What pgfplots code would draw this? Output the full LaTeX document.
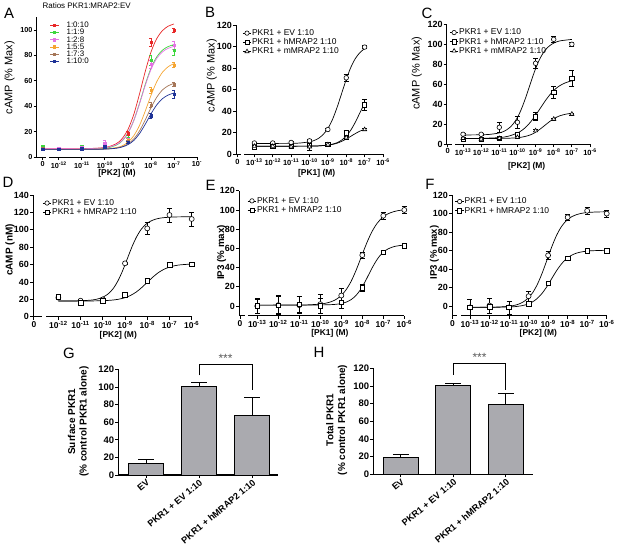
\documentclass[border=0pt]{standalone}
\usepackage{fontspec}
\setmainfont{Liberation Sans}
\usepackage{pgfplots}
\pgfplotsset{compat=1.18}
\definecolor{cR}{RGB}{232,40,40}
\definecolor{cG}{RGB}{60,215,60}
\definecolor{cM}{RGB}{228,115,228}
\definecolor{cO}{RGB}{245,165,50}
\definecolor{cBr}{RGB}{165,118,88}
\definecolor{cB}{RGB}{30,50,150}
\definecolor{barG}{RGB}{170,170,175}
\newcommand{\tp}[1]{10\textsuperscript{-#1}}
\pgfplotsset{
  prism/.style={
    scale only axis,
    axis lines=left,
    axis line style={-, line width=0.9pt},
    tick style={black, line width=0.8pt},
    tick align=outside,
    major tick length=3bp,
    clip=false,
    every axis title shift=0pt,
    /pgf/number format/assume math mode=true,
    yticklabel style={font=\bfseries\fontsize{9}{10}\selectfont, inner sep=1bp},
    xticklabel style={font=\bfseries\fontsize{8}{9}\selectfont, inner sep=1.5bp},
    legend style={draw=none, fill=none, inner sep=0pt, outer sep=0pt,
      font=\fontsize{8.5}{9}\selectfont, anchor=north west, row sep=1.2bp,
      nodes={inner sep=0.5bp, text height=5.8bp, text depth=1.2bp}, cells={anchor=west}},
    legend image code/.code={\draw[mark repeat=2, mark phase=2, #1] plot coordinates {(0bp,0bp) (4.25bp,0bp) (8.5bp,0bp)};},
  },
  curve/.style={black, line width=0.7pt, smooth},
  pts/.style={black, line width=0.6pt, only marks, mark options={solid, fill=white}, mark size=2.3bp,
    error bars/y dir=both, error bars/y explicit,
    error bars/error bar style={line width=0.6pt},
    error bars/error mark options={rotate=90, mark size=2.5bp, line width=0.6pt}},
  apts/.style={only marks, mark=square*, mark size=1.2bp,
    error bars/y dir=both, error bars/y explicit,
    error bars/error bar style={line width=0.5pt},
    error bars/error mark options={rotate=90, mark size=1.5bp, line width=0.5pt}},
  bars/.style={
    axis line style={-, line width=1.1pt}, major tick length=3bp,
    ytick={0,20,...,120}, xtick={0,1,2},
    xticklabels={EV,PKR1 + EV 1:10,PKR1 + hMRAP2 1:10},
    xticklabel style={rotate=40, anchor=north east, font=\bfseries\fontsize{9.2}{10}\selectfont, inner sep=0.5bp},
    yticklabel style={font=\bfseries\fontsize{9.5}{10}\selectfont},
  },
}
\begin{document}
\begin{tikzpicture}
\path[use as bounding box] (0,0) rectangle (617bp,-548bp);

% ---------------- A ----------------
\begin{axis}[prism, at={(36.7bp,-157bp)}, anchor=south west,
  width=160.3bp, height=139.7bp, xmin=-12.96, xmax=-6, ymin=0, ymax=110,
  ytick={0,20,40,60,80,100},
  xtick={-12.7,-12,-11,-10,-9,-8,-7,-6},
  xticklabels={0,\tp{12},\tp{11},\tp{10},\tp{9},\tp{8},\tp{7},10\textsuperscript{-}},
  yticklabel style={font=\bfseries\fontsize{7.3}{8}\selectfont},
  xticklabel style={font=\bfseries\fontsize{7.3}{8}\selectfont},
  ylabel={cAMP (\% Max)},
  ylabel style={at={(axis description cs:-0.169,0.568)}, anchor=center, font=\fontsize{11}{12}\selectfont},
  xlabel={[PK2] (M)},
  xlabel style={at={(axis description cs:0.501,-0.117)}, anchor=center, font=\bfseries\fontsize{8.5}{9}\selectfont},
  title={Ratios PKR1:MRAP2:EV},
  title style={at={(axis description cs:0.312,1.081)}, anchor=center, font=\fontsize{8}{9}\selectfont},
  legend style={at={(axis description cs:0.083,0.972)}, row sep=-0.75bp, font=\fontsize{8}{9}\selectfont},
]
\addlegendimage{cR, line width=0.6pt, mark=square*, mark size=1.2bp}\addlegendentry{\hspace{7bp}1:0:10}
\addlegendimage{cG, line width=0.6pt, mark=square*, mark size=1.2bp}\addlegendentry{\hspace{7bp}1:1:9}
\addlegendimage{cM, line width=0.6pt, mark=square*, mark size=1.2bp}\addlegendentry{\hspace{7bp}1:2:8}
\addlegendimage{cO, line width=0.6pt, mark=square*, mark size=1.2bp}\addlegendentry{\hspace{7bp}1:5:5}
\addlegendimage{cBr, line width=0.6pt, mark=square*, mark size=1.2bp}\addlegendentry{\hspace{7bp}1:7:3}
\addlegendimage{cB, line width=0.6pt, mark=square*, mark size=1.2bp}\addlegendentry{\hspace{7bp}1:10:0}
\fill[white] (axis cs:-12.56,-2.4) rectangle (axis cs:-12.42,2.4);
\addplot[cR, line width=0.7pt, smooth] coordinates {(-12.7,6.5)(-11,6.56)(-10,7.5)(-9.5,10.55)(-9.25,14.5)(-9,21.6)(-8.75,33.2)(-8.5,49.4)(-8.25,67.1)(-8,82.5)(-7.75,93.2)(-7.5,99.5)(-7.25,103)(-7,104.75)};
\addplot[cG, line width=0.7pt, smooth] coordinates {(-12.7,6)(-11,6.05)(-10,6.8)(-9.5,9.4)(-9.25,12.7)(-9,18.7)(-8.75,28.5)(-8.5,42)(-8.25,56.9)(-8,69.8)(-7.75,78.8)(-7.5,84.1)(-7.25,87)(-7,88.5)};
\addplot[cM, line width=0.7pt, smooth] coordinates {(-12.7,6.5)(-11,6.55)(-10,7.3)(-9.5,9.8)(-9.25,13)(-9,18.9)(-8.75,28.4)(-8.5,41.6)(-8.25,56.2)(-8,68.8)(-7.75,77.6)(-7.5,82.8)(-7.25,85.6)(-7,87.1)};
\addplot[cO, line width=0.7pt, smooth] coordinates {(-12.7,6)(-11,6.05)(-10,6.3)(-9.5,7.4)(-9.25,8.8)(-9,11.6)(-8.75,16.6)(-8.5,24.7)(-8.25,36)(-8,48.4)(-7.75,59.2)(-7.5,66.7)(-7.25,71.1)(-7,73.5)};
\addplot[cBr, line width=0.7pt, smooth] coordinates {(-12.7,6)(-11,6.03)(-10,6.3)(-9.5,7.1)(-9.25,8.2)(-9,10.3)(-8.75,14.1)(-8.5,20.4)(-8.25,29.1)(-8,38.7)(-7.75,47)(-7.5,52.8)(-7.25,56.1)(-7,58)};
\addplot[cB, line width=0.7pt, smooth] coordinates {(-12.7,6)(-11,6.03)(-10,6.2)(-9.5,6.9)(-9.25,7.9)(-9,9.7)(-8.75,12.9)(-8.5,18.3)(-8.25,25.7)(-8,33.9)(-7.75,41)(-7.5,45.9)(-7.25,48.8)(-7,50.4)};
\addplot[cR, apts] table[x=x,y=y,y error=e] {
x y e
-12.7 6.5 1
-12 7 1
-11 7.5 1
-10 9 1.5
-9 18.5 1.5
-8 90.5 3
-7 100 1.5
};
\addplot[cG, apts] table[x=x,y=y,y error=e] {
x y e
-12.7 8 1
-12 7 1
-11 8.5 1
-10 9 1
-9 15 2
-8 76 4
-7 84 4
};
\addplot[cM, apts] table[x=x,y=y,y error=e] {
x y e
-12.7 7 1
-12 6.5 1
-11 7.5 1
-10 10.5 2.5
-9 14 1.5
-8 73 3
-7 88 3
};
\addplot[cO, apts] table[x=x,y=y,y error=e] {
x y e
-12.7 7 1
-12 6 1
-11 7 1
-10 8.5 1
-9 13 1.5
-8 52.5 2.5
-7 72.5 2
};
\addplot[cBr, apts] table[x=x,y=y,y error=e] {
x y e
-12.7 6.5 1
-12 6 1
-11 7 1
-10 8 1
-9 12 1
-8 41 2
-7 57 1.5
};
\addplot[cB, apts] table[x=x,y=y,y error=e] {
x y e
-12.7 6 1
-12 6 1
-11 6.5 1
-10 8 1
-9 11.5 1
-8 32.5 2
-7 49.5 3
};
\end{axis}

% ---------------- B ----------------
\begin{axis}[prism, at={(236bp,-154.3bp)}, anchor=south west,
  width=147bp, height=129.3bp, xmin=-14, xmax=-6, ymin=0, ymax=120,
  ytick={0,20,...,120},
  xtick={-13.92,-13,-12,-11,-10,-9,-8,-7,-6},
  xticklabels={0,\tp{13},\tp{12},\tp{11},\tp{10},\tp{9},\tp{8},\tp{7},\tp{6}},
  xticklabel style={font=\bfseries\fontsize{7.5}{8}\selectfont},
  ylabel={cAMP (\% Max)},
  ylabel style={at={(axis description cs:-0.165,0.607)}, anchor=center, font=\fontsize{11}{12}\selectfont},
  xlabel={[PK1] (M)},
  xlabel style={at={(axis description cs:0.549,-0.147)}, anchor=center, font=\bfseries\fontsize{8.5}{9}\selectfont},
  legend style={at={(axis description cs:0.044,0.968)}},
]
\addlegendimage{black, line width=0.6pt, mark=*, mark size=2.2bp, mark options={fill=white}}\addlegendentry{PKR1 + EV 1:10}
\addlegendimage{black, line width=0.6pt, mark=square*, mark size=2.1bp, mark options={fill=white}}\addlegendentry{PKR1 + hMRAP2 1:10}
\addlegendimage{black, line width=0.6pt, mark=triangle*, mark size=2.4bp, mark options={fill=white}}\addlegendentry{PKR1 + mMRAP2 1:10}
\fill[white] (axis cs:-13.72,-2.8) rectangle (axis cs:-13.57,2.8);
\addplot[curve] coordinates {(-13,10)(-11,10.2)(-10.5,10.5)(-10,11.6)(-9.75,12.8)(-9.5,14.9)(-9.25,18.5)(-9,24)(-8.75,32.3)(-8.5,43.5)(-8.25,56.5)(-8,69.5)(-7.75,80.7)(-7.5,89)(-7.25,94.5)(-7,98.1)};
\addplot[curve] coordinates {(-13,7.5)(-10,7.6)(-9.5,7.85)(-9,8.6)(-8.75,9.4)(-8.5,10.8)(-8.25,13.2)(-8,16.9)(-7.75,22.5)(-7.5,30)(-7.25,38.75)(-7,47.5)};
\addplot[curve] coordinates {(-13,7.5)(-10,7.6)(-9.5,7.8)(-9,8.5)(-8.75,9.2)(-8.5,10.3)(-8.25,12)(-8,14.2)(-7.75,16.75)(-7.5,19.3)(-7.25,21.55)(-7,23.2)};
\addplot[pts, mark=*] table[x=x,y=y,y error=e] {
x y e
-13 10.5 1
-12 10.5 1
-11 11 1
-10 12.5 1.5
-9 23 1
-8 71 3.5
-7 99.5 1.5
};
\addplot[pts, mark=square*, mark size=2.1bp] table[x=x,y=y,y error=e] {
x y e
-13 6.5 1
-12 7.5 1
-11 7.5 1
-10 8 1
-9 9 1
-8 20 2
-7 46 5
};
\addplot[pts, mark=triangle*, mark size=2.4bp] table[x=x,y=y,y error=e] {
x y e
-13 7.5 1
-12 7.5 1
-11 7 1
-10 7 3
-9 9 1
-8 15.5 1.5
-7 23 1
};
\end{axis}

% ---------------- C ----------------
\begin{axis}[prism, at={(446.7bp,-144bp)}, anchor=south west,
  width=143.3bp, height=120bp, xmin=-13.9, xmax=-6, ymin=0, ymax=120,
  ytick={0,20,...,120},
  xtick={-13.85,-13,-12,-11,-10,-9,-8,-7,-6},
  xticklabels={0,\tp{13},\tp{12},\tp{11},\tp{10},\tp{9},\tp{8},\tp{7},\tp{6}},
  xticklabel style={font=\bfseries\fontsize{7.5}{8}\selectfont},
  ylabel={cAMP (\% Max)},
  ylabel style={at={(axis description cs:-0.209,0.589)}, anchor=center, font=\fontsize{11}{12}\selectfont},
  xlabel={[PK2] (M)},
  xlabel style={at={(axis description cs:0.558,-0.185)}, anchor=center, font=\bfseries\fontsize{8.5}{9}\selectfont},
  legend style={at={(axis description cs:0.02,0.962)}},
]
\addlegendimage{black, line width=0.6pt, mark=*, mark size=2.2bp, mark options={fill=white}}\addlegendentry{PKR1 + EV 1:10}
\addlegendimage{black, line width=0.6pt, mark=square*, mark size=2.1bp, mark options={fill=white}}\addlegendentry{PKR1 + hMRAP2 1:10}
\addlegendimage{black, line width=0.6pt, mark=triangle*, mark size=2.4bp, mark options={fill=white}}\addlegendentry{PKR1 + mMRAP2 1:10}
\fill[white] (axis cs:-13.62,-3) rectangle (axis cs:-13.47,3);
\addplot[curve] coordinates {(-13,9.02)(-12.1,9.2)(-11.6,9.5)(-11.1,10.7)(-10.85,11.9)(-10.6,14.1)(-10.35,17.7)(-10.1,23.5)(-9.85,32.1)(-9.6,43.6)(-9.35,57)(-9.1,70.4)(-8.85,81.9)(-8.6,90.5)(-8.35,96.3)(-8.1,99.9)(-7.85,102.1)(-7.6,103.3)(-7,104.6)};
\addplot[curve] coordinates {(-13,5.5)(-12,5.65)(-11,6.4)(-10.5,7.8)(-10,11)(-9.75,13.7)(-9.5,17.5)(-9.25,22.6)(-9,28.7)(-8.75,35.5)(-8.5,42.3)(-8.25,48.4)(-8,53.5)(-7.75,57.3)(-7.5,60)(-7.25,61.9)(-7,63.2)};
\addplot[curve] coordinates {(-13,5.5)(-11,5.6)(-10.5,5.76)(-10,6.3)(-9.75,6.9)(-9.5,7.9)(-9.25,9.4)(-9,11.75)(-8.75,14.9)(-8.5,18.5)(-8.25,22.1)(-8,25.25)(-7.75,27.6)(-7.5,29.1)(-7.25,30.1)(-7,30.7)};
\addplot[pts, mark=*] table[x=x,y=y,y error=e] {
x y e
-13 9.7 1
-12 9.7 1
-11 16.7 5
-10 21.7 6
-9 80.7 5
-8 104.7 3
-7 99.7 2
};
\addplot[pts, mark=square*, mark size=2.1bp] table[x=x,y=y,y error=e] {
x y e
-13 5 1
-12 5 1
-11 5.7 1
-10 10 1
-9 27.3 4
-8 51.7 6
-7 65.7 8
};
\addplot[pts, mark=triangle*, mark size=2.4bp] table[x=x,y=y,y error=e] {
x y e
-13 5.7 1
-12 5 1
-11 5.7 1
-10 6.7 1
-9 13.3 1
-8 25 1
-7 30 1
};
\end{axis}

% ---------------- D ----------------
\begin{axis}[prism, at={(33bp,-316.7bp)}, anchor=south west,
  width=158.7bp, height=121.7bp, xmin=-13.14, xmax=-6, ymin=0, ymax=140,
  ytick={0,20,...,140},
  xtick={-13.1,-12,-11,-10,-9,-8,-7,-6},
  xticklabels={0,\tp{12},\tp{11},\tp{10},\tp{9},\tp{8},\tp{7},\tp{6}},
  xticklabel style={font=\bfseries\fontsize{8.5}{9}\selectfont},
  ylabel={cAMP (nM)},
  ylabel style={at={(axis description cs:-0.145,0.548)}, anchor=center, font=\bfseries\fontsize{10}{11}\selectfont},
  xlabel={[PK2] (M)},
  xlabel style={at={(axis description cs:0.5375,-0.15)}, anchor=center, font=\bfseries\fontsize{8.5}{9}\selectfont},
  legend style={at={(axis description cs:0.06,0.967)}},
]
\addlegendimage{black, line width=0.6pt, mark=*, mark size=2.2bp, mark options={fill=white}}\addlegendentry{PKR1 + EV 1:10}
\addlegendimage{black, line width=0.6pt, mark=square*, mark size=2.1bp, mark options={fill=white}}\addlegendentry{PKR1 + hMRAP2 1:10}
\fill[white] (axis cs:-12.73,-3.5) rectangle (axis cs:-12.56,3.5);
\addplot[curve] coordinates {(-12,18)(-11.4,18.1)(-10.983,18.3)(-10.567,19)(-10.358,19.7)(-10.15,21)(-9.942,23.2)(-9.733,26.8)(-9.525,32.6)(-9.317,41.3)(-9.108,52.9)(-8.9,66.5)(-8.692,80.1)(-8.483,91.7)(-8.275,100.4)(-8.067,106.2)(-7.858,109.8)(-7.65,112)(-7.442,113.3)(-7.233,114)(-6.817,114.7)(-6.4,114.9)(-6,115)};
\addplot[curve] coordinates {(-12,18)(-11,18.04)(-10.5,18.14)(-10,18.4)(-9.75,18.75)(-9.5,19.3)(-9.25,20.3)(-9,21.9)(-8.75,24.5)(-8.5,28.3)(-8.25,33.5)(-8,39.5)(-7.75,45.5)(-7.5,50.7)(-7.25,54.5)(-7,57.1)(-6.75,58.7)(-6.5,59.7)(-6,60.6)};
\addplot[pts, mark=*, mark size=2.5bp] table[x=x,y=y,y error=e] {
x y e
-12 21.9 2
-11 18.4 1.5
-10 19.9 1.5
-9 61.4 1.5
-8 101.6 7
-7 117 8
-6 112.4 8
};
\addplot[pts, mark=square*, mark size=2.4bp] table[x=x,y=y,y error=e] {
x y e
-12 23 2
-11 16.1 2
-10 18.4 2
-9 24.9 1.5
-8 41.4 3
-7 59.5 3
-6 60.2 2
};
\end{axis}

% ---------------- E ----------------
\begin{axis}[prism, at={(239bp,-315.7bp)}, anchor=south west,
  width=165.3bp, height=125bp, xmin=-13.87, xmax=-6, ymin=-10, ymax=120,
  ytick={0,20,...,120},
  xtick={-13.82,-13,-12,-11,-10,-9,-8,-7,-6},
  xticklabels={0,\tp{13},\tp{12},\tp{11},\tp{10},\tp{9},\tp{8},\tp{7},\tp{6}},
  xticklabel style={font=\bfseries\fontsize{8.5}{9}\selectfont},
  ylabel={IP3 (\% max)},
  ylabel style={at={(axis description cs:-0.105,0.506)}, anchor=center, font=\bfseries\fontsize{9.8}{11}\selectfont},
  xlabel={[PK1] (M)},
  xlabel style={at={(axis description cs:0.55,-0.141)}, anchor=center, font=\bfseries\fontsize{8.5}{9}\selectfont},
  legend style={at={(axis description cs:0.051,0.951)}},
]
\addlegendimage{black, line width=0.6pt, mark=*, mark size=2.2bp, mark options={fill=white}}\addlegendentry{PKR1 + EV 1:10}
\addlegendimage{black, line width=0.6pt, mark=square*, mark size=2.1bp, mark options={fill=white}}\addlegendentry{PKR1 + hMRAP2 1:10}
\fill[white] (axis cs:-13.6,-13.1) rectangle (axis cs:-13.42,-6.9);
\addplot[curve] coordinates {(-13,1)(-11.05,1.1)(-10.55,1.32)(-10.05,2)(-9.8,2.75)(-9.55,4.06)(-9.3,6.3)(-9.05,10.1)(-8.8,16.1)(-8.55,25)(-8.3,37)(-8.05,51)(-7.8,65)(-7.55,77)(-7.3,85.9)(-7.05,91.9)(-6.8,95.7)(-6.55,97.9)(-6.3,99.25)(-6,100.1)};
\addplot[curve] coordinates {(-13,1)(-11,1)(-10.2,1.06)(-9.367,1.62)(-9.158,2.1)(-8.95,2.93)(-8.742,4.35)(-8.533,6.73)(-8.325,10.5)(-8.117,16.1)(-7.908,23.7)(-7.7,32.5)(-7.492,41.3)(-7.283,48.9)(-7.075,54.5)(-6.867,58.3)(-6.658,60.6)(-6.45,62.1)(-6.242,62.9)(-6,63.4)};
\addplot[pts, mark=*, mark size=2.5bp] table[x=x,y=y,y error=e] {
x y e
-13 0 8
-12 1 10
-11 1 9
-10 2 10
-9 11 8
-8 53 3
-7 94 4
-6 100 4
};
\addplot[pts, mark=square*, mark size=2.3bp] table[x=x,y=y,y error=e] {
x y e
-13 0 7
-12 1 9
-11 2 8
-10 0 8
-9 4 6
-8 19 4
-7 56 2
-6 63 2
};
\end{axis}

% ---------------- F ----------------
\begin{axis}[prism, at={(452bp,-315.7bp)}, anchor=south west,
  width=154.7bp, height=120.7bp, xmin=-13.92, xmax=-6, ymin=-10, ymax=120,
  ytick={0,20,...,120},
  xtick={-13.9,-13,-12,-11,-10,-9,-8,-7,-6},
  xticklabels={0,\tp{13},\tp{12},\tp{11},\tp{10},\tp{9},\tp{8},\tp{7},\tp{6}},
  xticklabel style={font=\bfseries\fontsize{8.5}{9}\selectfont},
  ylabel={IP3 (\% max)},
  ylabel style={at={(axis description cs:-0.114,0.525)}, anchor=center, font=\bfseries\fontsize{9.6}{11}\selectfont},
  xlabel={[PK2] (M)},
  xlabel style={at={(axis description cs:0.558,-0.146)}, anchor=center, font=\bfseries\fontsize{8.5}{9}\selectfont},
  legend style={at={(axis description cs:0.02,0.979)}},
]
\addlegendimage{black, line width=0.6pt, mark=*, mark size=2.2bp, mark options={fill=white}}\addlegendentry{PKR1 + EV 1:10}
\addlegendimage{black, line width=0.6pt, mark=square*, mark size=2.1bp, mark options={fill=white}}\addlegendentry{PKR1 + hMRAP2 1:10}
\fill[white] (axis cs:-13.68,-13.2) rectangle (axis cs:-13.45,-6.8);
\addplot[curve] coordinates {(-13,-1)(-12.05,-0.9)(-11.55,-0.67)(-11.05,0.02)(-10.8,0.8)(-10.55,2.15)(-10.3,4.5)(-10.05,8.4)(-9.8,14.5)(-9.55,23.75)(-9.3,36.1)(-9.05,50.5)(-8.8,64.9)(-8.55,77.25)(-8.3,86.5)(-8.05,92.6)(-7.8,96.5)(-7.55,98.8)(-7.3,100.2)(-7.05,101)(-6.55,101.7)(-6,101.9)};
\addplot[curve] coordinates {(-13,-1)(-11.82,-0.94)(-10.82,-0.39)(-10.57,0.08)(-10.32,0.88)(-10.07,2.27)(-9.82,4.6)(-9.57,8.3)(-9.32,13.8)(-9.07,21.1)(-8.82,29.75)(-8.57,38.4)(-8.32,45.7)(-8.07,51.2)(-7.82,54.9)(-7.57,57.2)(-7.32,58.6)(-7.07,59.4)(-6.82,59.9)(-6.32,60.3)(-6,60.4)};
\addplot[pts, mark=*, mark size=2.5bp] table[x=x,y=y,y error=e] {
x y e
-13 -1 9
-12 1 8
-11 -1 7
-10 11 5
-9 55 4
-8 96 3
-7 103 4
-6 100 4
};
\addplot[pts, mark=square*, mark size=2.3bp] table[x=x,y=y,y error=e] {
x y e
-13 -1 1
-12 -0.5 1
-11 -1 1
-10 3 1
-9 25 1
-8 52 1
-7 60 1
-6 60 1
};
\end{axis}

% ---------------- G ----------------
\begin{axis}[prism, bars, at={(118.3bp,-475bp)}, anchor=south west,
  width=160bp, height=105.7bp, xmin=-0.523, xmax=2.496, ymin=0, ymax=120,
  ylabel={Surface PKR1\\(\% control PKR1 alone)},
  ylabel style={at={(axis description cs:-0.25,0.504)}, anchor=center, align=center, font=\bfseries\fontsize{10}{11.6}\selectfont},
]
\addplot[ybar, bar width=35.7bp, fill=barG, draw=black, line width=1pt,
  error bars/y dir=plus, error bars/y explicit,
  error bars/error bar style={line width=1pt},
  error bars/error mark options={rotate=90, mark size=8bp, line width=1pt}]
  coordinates {(0,13) +- (0,5.1) (1,100.75) +- (0,4.1) (2,67.9) +- (0,19.6)};
\draw[line width=0.9pt] (axis cs:1,113) -- (axis cs:1,126) -- (axis cs:2,126) -- (axis cs:2,97);
\node[font=\fontsize{12}{12}\selectfont, text=black!65] at (axis cs:1.5,132) {***};
\end{axis}

% ---------------- H ----------------
\begin{axis}[prism, bars, at={(373.3bp,-474.3bp)}, anchor=south west,
  width=160bp, height=106bp, xmin=-0.524, xmax=2.524, ymin=0, ymax=120,
  ylabel={Total PKR1\\(\% control PKR1 alone)},
  ylabel style={at={(axis description cs:-0.229,0.512)}, anchor=center, align=center, font=\bfseries\fontsize{10}{11.6}\selectfont},
]
\addplot[ybar, bar width=35bp, fill=barG, draw=black, line width=1pt,
  error bars/y dir=plus, error bars/y explicit,
  error bars/error bar style={line width=1pt},
  error bars/error mark options={rotate=90, mark size=8bp, line width=1pt}]
  coordinates {(0,18.9) +- (0,3.4) (1,100.75) +- (0,1.9) (2,78.5) +- (0,13.2)};
\draw[line width=0.9pt] (axis cs:1,112.5) -- (axis cs:1,125.7) -- (axis cs:2,125.7) -- (axis cs:2,95.5);
\node[font=\fontsize{12}{12}\selectfont, text=black!65] at (axis cs:1.5,132) {***};
\end{axis}

% panel letters
\node[font=\fontsize{15}{15}\selectfont] at (9bp,-13bp) {A};
\node[font=\fontsize{15}{15}\selectfont] at (210bp,-12.5bp) {B};
\node[font=\fontsize{15}{15}\selectfont] at (427bp,-13bp) {C};
\node[font=\fontsize{15}{15}\selectfont] at (8bp,-182bp) {D};
\node[font=\fontsize{15}{15}\selectfont] at (210.5bp,-185bp) {E};
\node[font=\fontsize{15}{15}\selectfont] at (430bp,-184bp) {F};
\node[font=\fontsize{15}{15}\selectfont] at (69bp,-353bp) {G};
\node[font=\fontsize{15}{15}\selectfont] at (319bp,-352.5bp) {H};
\end{tikzpicture}
\end{document}
